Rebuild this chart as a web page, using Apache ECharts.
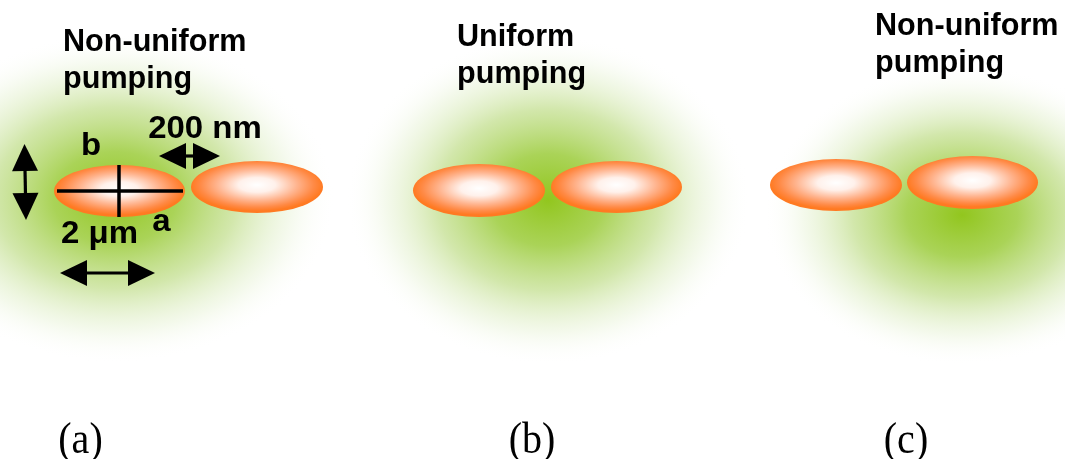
<!DOCTYPE html>
<html>
<head>
<meta charset="utf-8">
<style>
  html, body { margin: 0; padding: 0; background: #ffffff; }
  #chart { width: 1065px; height: 459px; }
</style>
<script src="https://cdn.jsdelivr.net/npm/echarts@6/dist/echarts.min.js"></script>
</head>
<body>
<div id="chart"></div>
<script>
// Pump spots: [centreX, centreY, radiusX, radiusY] in plane units
const pumpSpots = [
  [115, 198, 220, 165],
  [548, 200, 202, 165],
  [962, 215, 198, 150]
];

// Coupled microdisk pair in each panel: [centreX, centreY, radiusX, radiusY]
const disks = [
  [119.5, 191, 65.5, 26],
  [257, 187, 66, 26],
  [479, 190.5, 66, 26.5],
  [616.5, 187, 65.5, 26],
  [836, 185, 66, 26],
  [972.5, 182.5, 65.5, 26.5]
];

// Axes a and b drawn across the first disk: [x1, y1, x2, y2]
const diskAxes = [
  [57, 191, 183, 191],
  [119, 165, 119, 217]
];

// Double-headed dimension arrows: [x1, y1, x2, y2]
const dimArrows = [
  [24.5, 144, 26, 220],
  [159, 156, 220, 156],
  [60, 273, 155, 273]
];

// Panel headings and their anchors (centre of text block)
const panelTitles = ['Non-uniform\npumping', 'Uniform\npumping', 'Non-uniform\npumping'];
const panelTitleAnchors = [[63, 61], [457, 56], [875, 45]];

// Dimension annotations and their anchors (centre)
const dimLabels = ['b', '200 nm', '2 μm', 'a'];
const dimLabelAnchors = [[91, 146.5], [205, 129.5], [99.5, 234.5], [161.5, 222.5]];

// Panel tags along the bottom
const panelTags = ['(a)', '(b)', '(c)'];
const panelTagAnchors = [[80.5, 441], [532, 441], [906, 441]];

const chart = echarts.init(document.getElementById('chart'), null, { renderer: 'canvas' });

const sansBold = "bold 30px 'Liberation Sans', Arial, sans-serif";

function glowFill() {
  return new echarts.graphic.RadialGradient(0.5, 0.5, 0.5, [
    { offset: 0, color: 'rgba(146,198,30,1)' },
    { offset: 0.28, color: 'rgba(156,204,60,0.86)' },
    { offset: 0.55, color: 'rgba(180,215,115,0.6)' },
    { offset: 0.8, color: 'rgba(215,234,185,0.28)' },
    { offset: 1, color: 'rgba(255,255,255,0)' }
  ]);
}

function diskFill() {
  return new echarts.graphic.RadialGradient(0.5, 0.46, 0.5, [
    { offset: 0, color: '#ffffff' },
    { offset: 0.28, color: '#fff1eb' },
    { offset: 0.6, color: '#ffb590' },
    { offset: 0.86, color: '#ff8a46' },
    { offset: 1, color: '#ff7a22' }
  ]);
}

// Ellipse drawn as a scaled circle so the radial gradient follows the ellipse
function ellipseItem(fillFn) {
  return function (params, api) {
    const c = api.coord([api.value(0), api.value(1)]);
    const s = api.size([api.value(2), api.value(3)]);
    return {
      type: 'circle',
      x: c[0],
      y: c[1],
      scaleX: s[0] / s[1],
      shape: { cx: 0, cy: 0, r: s[1] },
      style: { fill: fillFn() },
      silent: true
    };
  };
}

function segmentItem(params, api) {
  const p1 = api.coord([api.value(0), api.value(1)]);
  const p2 = api.coord([api.value(2), api.value(3)]);
  return {
    type: 'line',
    shape: { x1: p1[0], y1: p1[1], x2: p2[0], y2: p2[1] },
    style: { stroke: '#000', lineWidth: 3.5 },
    silent: true
  };
}

function arrowItem(params, api) {
  const p1 = api.coord([api.value(0), api.value(1)]);
  const p2 = api.coord([api.value(2), api.value(3)]);
  const dx = p2[0] - p1[0], dy = p2[1] - p1[1];
  const len = Math.sqrt(dx * dx + dy * dy);
  const ux = dx / len, uy = dy / len;
  const nx = -uy, ny = ux;
  const L = 27, W = 13;
  const head = (tip, sx, sy) => [
    [tip[0], tip[1]],
    [tip[0] - sx * L + nx * W, tip[1] - sy * L + ny * W],
    [tip[0] - sx * L - nx * W, tip[1] - sy * L - ny * W]
  ];
  return {
    type: 'group',
    silent: true,
    children: [
      {
        type: 'line',
        shape: { x1: p1[0] + ux * L * 0.8, y1: p1[1] + uy * L * 0.8, x2: p2[0] - ux * L * 0.8, y2: p2[1] - uy * L * 0.8 },
        style: { stroke: '#000', lineWidth: 3.2 }
      },
      { type: 'polygon', shape: { points: head(p2, ux, uy) }, style: { fill: '#000' } },
      { type: 'polygon', shape: { points: head(p1, -ux, -uy) }, style: { fill: '#000' } }
    ]
  };
}

function textItem(texts, font, align, lineHeight, scaleX, scaleY) {
  return function (params, api) {
    const c = api.coord([api.value(0), api.value(1)]);
    return {
      type: 'text',
      x: c[0],
      y: c[1],
      scaleX: scaleX,
      scaleY: scaleY,
      silent: true,
      style: {
        text: texts[params.dataIndex],
        font: font,
        fill: '#000',
        align: align,
        verticalAlign: 'middle',
        lineHeight: lineHeight
      }
    };
  };
}

const option = {
  backgroundColor: '#ffffff',
  animation: false,
  grid: { left: 0, right: 0, top: 0, bottom: 0, outerBoundsMode: 'none' },
  xAxis: { type: 'value', min: 0, max: 1065, show: false },
  yAxis: { type: 'value', min: 0, max: 459, inverse: true, show: false },
  series: [
    { type: 'custom', name: 'pump', data: pumpSpots, renderItem: ellipseItem(glowFill), z: 1 },
    { type: 'custom', name: 'disks', data: disks, renderItem: ellipseItem(diskFill), z: 2 },
    { type: 'custom', name: 'diskAxes', data: diskAxes, renderItem: segmentItem, z: 3 },
    { type: 'custom', name: 'arrows', data: dimArrows, renderItem: arrowItem, z: 3 },
    {
      type: 'custom', name: 'titles', z: 4,
      data: panelTitleAnchors,
      renderItem: textItem(panelTitles, sansBold, 'left', 35, 1.02, 1.04)
    },
    {
      type: 'custom', name: 'dimLabels', z: 4,
      data: dimLabelAnchors,
      renderItem: textItem(dimLabels, sansBold, 'center', 35, 1.1, 1.04)
    },
    {
      type: 'custom', name: 'tags', z: 4,
      data: panelTagAnchors,
      renderItem: textItem(panelTags, "40px 'Liberation Serif', 'Times New Roman', serif", 'center', 44, 1, 1.12)
    }
  ]
};

chart.setOption(option);
</script>
</body>
</html>
